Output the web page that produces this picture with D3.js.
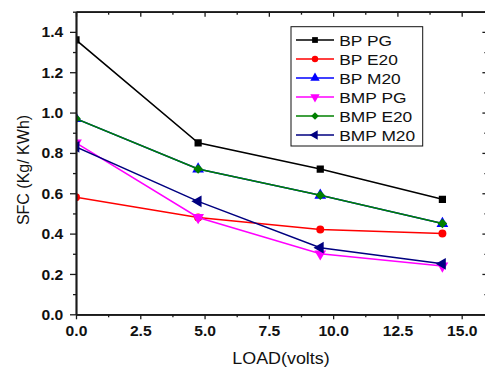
<!DOCTYPE html>
<html><head><meta charset="utf-8">
<script src="https://cdn.jsdelivr.net/npm/d3@7"></script>
<style>
html,body{margin:0;padding:0;background:#fff;}
svg{display:block;font-family:"Liberation Sans",Arial,sans-serif;}
</style></head>
<body>
<svg id="chart" width="485" height="367"></svg>
<script>
// ---- data ----
const loads = [0, 4.75, 9.5, 14.25];
const seriesNames = ["BP PG", "BP E20", "BP M20", "BMP PG", "BMP E20", "BMP M20"];
const bpPG   = [1.36, 0.85, 0.72, 0.57];
const bpE20  = [0.58, 0.48, 0.42, 0.40];
const bpM20  = [0.97, 0.72, 0.59, 0.45];
const bmpPG  = [0.85, 0.48, 0.30, 0.24];
const bmpE20 = [0.97, 0.72, 0.59, 0.45];
const bmpM20 = [0.83, 0.56, 0.33, 0.25];
const seriesValues = [bpPG, bpE20, bpM20, bmpPG, bmpE20, bmpM20];
const seriesColors = ["#000000", "#ff0000", "#0000ff", "#ff00ff", "#008000", "#000080"];
const seriesMarkers = ["square", "circle", "triUp", "triDown", "diamond", "triLeft"];
const xMajorTicks = [0, 2.5, 5, 7.5, 10, 12.5, 15];
const xMinorTicks = [1.25, 3.75, 6.25, 8.75, 11.25, 13.75, 16];
const yMajorTicks = [0, 0.2, 0.4, 0.6, 0.8, 1.0, 1.2, 1.4];
const yMinorTicks = [0.1, 0.3, 0.5, 0.7, 0.9, 1.1, 1.3, 1.5];
const xTitle = "LOAD(volts)";
const yTitle = "SFC (Kg/ KWh)";

// ---- layout ----
const L = 76, R = 487.4, T = 11.7, B = 314.3;
const SX = 1.12; // horizontal text stretch of original
const svg = d3.select("#chart");
const x = d3.scaleLinear().domain([0, 16]).range([L, R]);
const y = d3.scaleLinear().domain([0, 1.5]).range([B, T]);

svg.append("defs").append("clipPath").attr("id", "clip")
  .append("rect").attr("x", L).attr("y", T - 10).attr("width", R - L + 10).attr("height", B - T + 10);

// ---- series ----
function markerPath(type, s) {
  switch (type) {
    case "square": return d3.symbol(d3.symbolSquare, 52 * s * s)();
    case "circle": return d3.symbol(d3.symbolCircle, 50 * s * s)();
    case "diamond": return d3.symbol(d3.symbolSquare, 46 * s * s)();
    default: return d3.symbol(d3.symbolTriangle, 60 * s * s)();
  }
}
function markerRot(type) {
  return {triDown: 180, triLeft: -90, diamond: 45}[type] || 0;
}
const plot = svg.append("g").attr("clip-path", "url(#clip)");
const line = d3.line().x((d, i) => x(loads[i])).y(d => y(d));
seriesValues.forEach((vals, si) => {
  const g = plot.append("g");
  g.append("path").attr("d", line(vals)).attr("fill", "none")
    .attr("stroke", seriesColors[si]).attr("stroke-width", 1.5);
  g.selectAll("path.m").data(vals).enter().append("path").attr("class", "m")
    .attr("d", markerPath(seriesMarkers[si], 1))
    .attr("transform", (d, i) => `translate(${x(loads[i])},${y(d)}) rotate(${markerRot(seriesMarkers[si])})`)
    .attr("fill", seriesColors[si]);
});

// ---- axes ----
function styleAxis(g) {
  g.select(".domain").attr("stroke", "#1a1a1a").attr("stroke-width", 1.7);
  g.selectAll(".tick line").attr("stroke", "#1a1a1a").attr("stroke-width", 1.3);
}
const axB = svg.append("g").attr("transform", `translate(0,${B})`)
  .call(d3.axisBottom(x).tickValues(xMajorTicks).tickFormat(d3.format(".1f")).tickSize(5).tickSizeOuter(0));
styleAxis(axB);
axB.selectAll("text").attr("y", 21.7).attr("dy", 0)
  .attr("font-size", 14).attr("font-weight", "bold").attr("fill", "#111")
  .attr("font-family", "Liberation Sans, Arial, sans-serif")
  .attr("transform", `scale(${SX},1)`);
const axBm = svg.append("g").attr("transform", `translate(0,${B})`)
  .call(d3.axisBottom(x).tickValues(xMinorTicks).tickFormat("").tickSize(3).tickSizeOuter(0));
styleAxis(axBm);

const axLft = svg.append("g").attr("transform", `translate(${L},0)`)
  .call(d3.axisLeft(y).tickValues(yMajorTicks).tickFormat(d3.format(".1f")).tickSize(6).tickSizeOuter(0));
styleAxis(axLft);
axLft.selectAll("text").attr("x", -12.7 / SX).attr("dy", "0.36em")
  .attr("font-size", 14).attr("font-weight", "bold").attr("fill", "#111")
  .attr("font-family", "Liberation Sans, Arial, sans-serif")
  .attr("transform", `scale(${SX},1)`);
const axLm = svg.append("g").attr("transform", `translate(${L},0)`)
  .call(d3.axisLeft(y).tickValues(yMinorTicks).tickFormat("").tickSize(3).tickSizeOuter(0));
styleAxis(axLm);

const axT = svg.append("g").attr("transform", `translate(0,${T})`)
  .call(d3.axisTop(x).tickValues(xMajorTicks).tickFormat("").tickSize(-5).tickSizeOuter(0));
styleAxis(axT);
axT.select(".domain").attr("stroke", "#444");
const axTm = svg.append("g").attr("transform", `translate(0,${T})`)
  .call(d3.axisTop(x).tickValues(xMinorTicks).tickFormat("").tickSize(-3).tickSizeOuter(0));
styleAxis(axTm);

const axR = svg.append("g").attr("transform", `translate(${R},0)`)
  .call(d3.axisRight(y).tickValues(yMajorTicks).tickFormat("").tickSize(-5).tickSizeOuter(0));
styleAxis(axR);
const axRm = svg.append("g").attr("transform", `translate(${R},0)`)
  .call(d3.axisRight(y).tickValues(yMinorTicks).tickFormat("").tickSize(-3).tickSizeOuter(0));
styleAxis(axRm);

// ---- titles ----
svg.append("text").attr("transform", `translate(281,364) scale(${SX},1)`)
  .attr("text-anchor", "middle").attr("font-size", 16).attr("fill", "#111").text(xTitle);
svg.append("text").attr("transform", `translate(28.5,170) rotate(-90)`)
  .attr("text-anchor", "middle").attr("font-size", 16).attr("fill", "#111").text(yTitle);

// ---- legend ----
const lg = svg.append("g");
lg.append("rect").attr("x", 291).attr("y", 26.7).attr("width", 131.7).attr("height", 119.3)
  .attr("fill", "#fff").attr("stroke", "#111").attr("stroke-width", 1);
seriesNames.forEach((name, i) => {
  const ry = 40 + i * 19;
  lg.append("line").attr("x1", 296).attr("x2", 334).attr("y1", ry).attr("y2", ry)
    .attr("stroke", seriesColors[i]).attr("stroke-width", 1.5);
  lg.append("path").attr("d", markerPath(seriesMarkers[i], 0.8))
    .attr("transform", `translate(315,${ry}) rotate(${markerRot(seriesMarkers[i])})`)
    .attr("fill", seriesColors[i]);
  lg.append("text").attr("transform", `translate(339.3,${ry}) scale(${SX},1)`)
    .attr("dy", "0.36em").attr("font-size", 15.5).attr("fill", "#111").text(name);
});
</script>
</body></html>
